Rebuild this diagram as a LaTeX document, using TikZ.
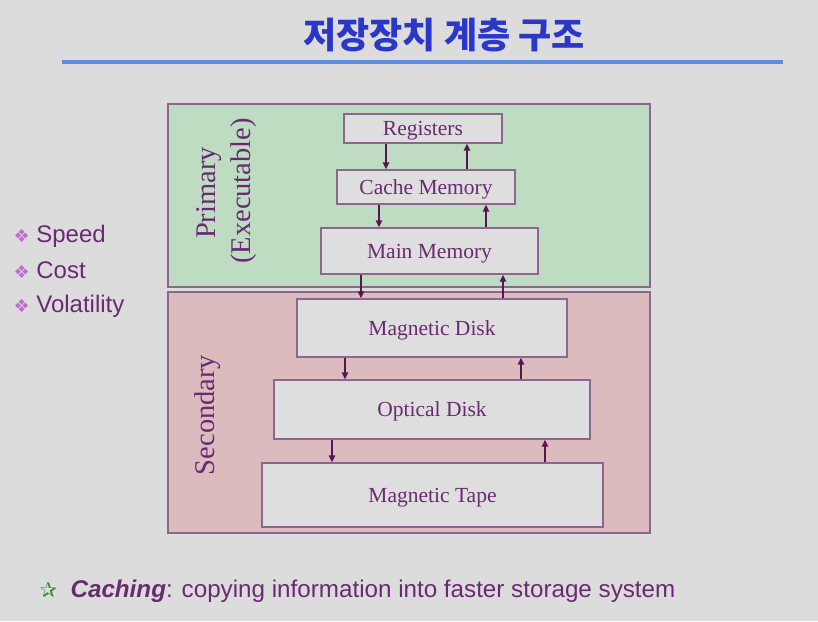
\documentclass[tikz,border=0pt]{standalone}
\usepackage{fontspec}
\setmainfont{Liberation Serif}
\newfontfamily\sansfont{Liberation Sans}
\newfontfamily\krfont{Noto Sans CJK KR}
\newfontfamily\symfont{DejaVu Sans}
\usepackage{tikz}
\usetikzlibrary{positioning,arrows.meta}
\definecolor{slidebg}{HTML}{DCDCDC}
\definecolor{titleblue}{HTML}{2B37C9}
\definecolor{ruleblue}{HTML}{5E8CE2}
\definecolor{primgreen}{HTML}{BDDCC1}
\definecolor{secpink}{HTML}{DBBBBE}
\definecolor{frameline}{HTML}{8C668C}
\definecolor{boxfill}{HTML}{DEDEDE}
\definecolor{plum}{HTML}{6A2A72}
\definecolor{arrowplum}{HTML}{5A1452}
\definecolor{bulletpink}{HTML}{C46AD6}
\definecolor{stargreen}{HTML}{3C8C3C}

\begin{document}
\begin{tikzpicture}[x=1pt,y=-1pt,
  frame/.style={draw=frameline,line width=1.2pt,minimum width=482pt},
  level/.style={draw=frameline,fill=boxfill,line width=1.1pt,inner sep=0pt,text height=14pt,text depth=0pt,text=plum,font=\fontsize{21.5}{24}\selectfont},
  side/.style={rotate=90,text=plum,font=\fontsize{28.5}{30}\selectfont},
  pt/.style={anchor=base west,text=plum,font=\sansfont\fontsize{24}{26}\selectfont},
  arr/.style={-{Triangle[length=7pt,width=6pt]},arrowplum,line width=2.2pt}
]
\useasboundingbox[fill=slidebg] (0,0) rectangle (818,621);

% title
\node[text=titleblue,font=\krfont\bfseries\fontsize{36}{40}\selectfont] (title) at (444,35) {저장장치 계층 구조};
\draw[ruleblue,line width=3.2pt] (62,62) coordinate (rulel) -- (783,62) coordinate (ruler);

% frames
\node[frame,fill=primgreen,minimum height=183pt] (prim) at (409,195.5) {};
\node[frame,fill=secpink,minimum height=241pt] (sec) at (409,412.5) {};
\node[side] (primlbl) at (209,193) {Primary};
\node[side] (execlbl) at (244,191) {(Executable)};
\node[side] (seclbl) at (208,415) {Secondary};

% levels
\node[level,minimum width=158pt,minimum height=29pt] (reg) at (423,128.5) {Registers};
\node[level,minimum width=178pt,minimum height=34pt] (cache) at (426,187) {Cache Memory};
\node[level,minimum width=217pt,minimum height=46pt] (main) at (429.5,251) {Main Memory};
\node[level,minimum width=270pt,minimum height=58pt] (mdisk) at (432,328) {Magnetic Disk};
\node[level,minimum width=316pt,minimum height=59pt] (odisk) at (432,409.5) {Optical Disk};
\node[level,minimum width=341pt,minimum height=64pt] (tape) at (432.5,495) {Magnetic Tape};

\draw[arr] ([xshift=-37pt]reg.south) -- ([xshift=-37pt]reg.south |- cache.north);
\draw[arr] ([xshift=44pt]reg.south |- cache.north) -- ([xshift=44pt]reg.south);
\draw[arr] ([xshift=-47pt]cache.south) -- ([xshift=-47pt]cache.south |- main.north);
\draw[arr] ([xshift=60pt]cache.south |- main.north) -- ([xshift=60pt]cache.south);
\draw[arr] ([xshift=-68.5pt]main.south) -- ([xshift=-68.5pt]main.south |- mdisk.north);
\draw[arr] ([xshift=73.5pt]main.south |- mdisk.north) -- ([xshift=73.5pt]main.south);
\draw[arr] ([xshift=-87pt]mdisk.south) -- ([xshift=-87pt]mdisk.south |- odisk.north);
\draw[arr] ([xshift=89pt]mdisk.south |- odisk.north) -- ([xshift=89pt]mdisk.south);
\draw[arr] ([xshift=-100pt]odisk.south) -- ([xshift=-100pt]odisk.south |- tape.north);
\draw[arr] ([xshift=113pt]odisk.south |- tape.north) -- ([xshift=113pt]odisk.south);

% criteria
\node[pt] (speed) at (10,242) {{\symfont\color{bulletpink}\fontsize{18}{20}\selectfont ❖}\ Speed};
\node[pt] (cost) at (10,278) {{\symfont\color{bulletpink}\fontsize{18}{20}\selectfont ❖}\ Cost};
\node[pt] (vol) at (10,312) {{\symfont\color{bulletpink}\fontsize{18}{20}\selectfont ❖}\ Volatility};

% note
\node[pt,font=\sansfont\fontsize{24.2}{26}\selectfont] (note) at (36,597) {{\symfont\color{stargreen}\fontsize{21}{22}\selectfont ✰}\ \ \textbf{\textit{Caching}}: copying information into faster storage system};
\end{tikzpicture}
\end{document}
